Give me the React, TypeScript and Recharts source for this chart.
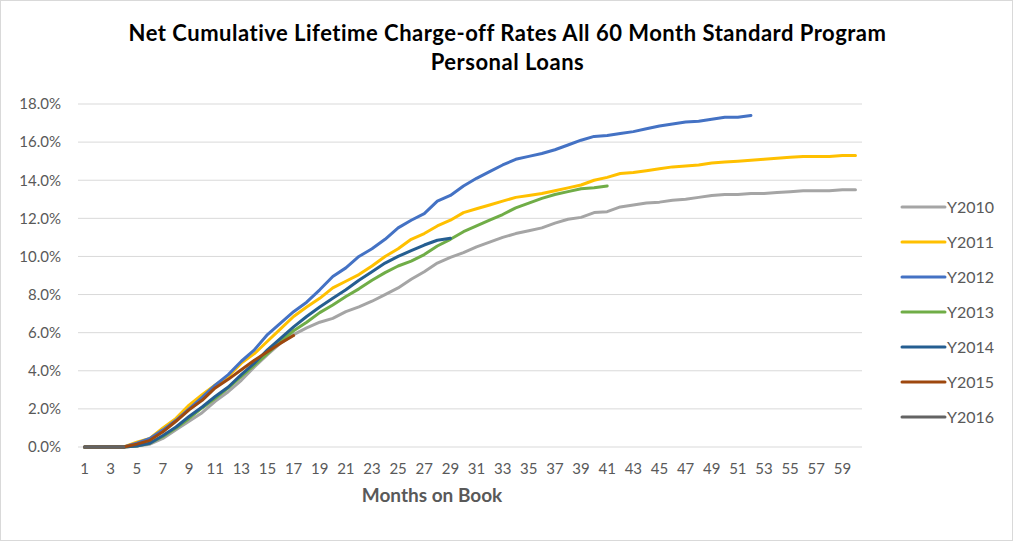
import { LineChart, Line, XAxis, YAxis, CartesianGrid, Legend } from 'recharts'

const months = Array.from({ length: 60 }, (_, i) => i + 1)

const y2010 = [0, 0, 0, 0, 0.05, 0.15, 0.45, 0.9, 1.35, 1.8, 2.4, 2.9, 3.5, 4.2, 4.85, 5.45, 5.9, 6.25, 6.55, 6.75, 7.1, 7.35, 7.65, 8.0, 8.35, 8.8, 9.2, 9.65, 9.95, 10.2, 10.5, 10.75, 11.0, 11.2, 11.35, 11.5, 11.75, 11.95, 12.05, 12.3, 12.35, 12.6, 12.7, 12.8, 12.85, 12.95, 13.0, 13.1, 13.2, 13.25, 13.25, 13.3, 13.3, 13.35, 13.4, 13.45, 13.45, 13.45, 13.5, 13.5]
const y2011 = [0, 0, 0, 0, 0.25, 0.45, 1.0, 1.5, 2.2, 2.75, 3.25, 3.7, 4.4, 4.9, 5.55, 6.2, 6.85, 7.35, 7.8, 8.35, 8.7, 9.05, 9.5, 10.0, 10.4, 10.9, 11.2, 11.6, 11.9, 12.3, 12.5, 12.7, 12.9, 13.1, 13.2, 13.3, 13.45, 13.6, 13.75, 14.0, 14.15, 14.35, 14.4, 14.5, 14.6, 14.7, 14.75, 14.8, 14.9, 14.95, 15.0, 15.05, 15.1, 15.15, 15.2, 15.25, 15.25, 15.25, 15.3, 15.3]
const y2012 = [0, 0, 0, 0, 0.2, 0.45, 0.9, 1.4, 2.0, 2.6, 3.25, 3.8, 4.5, 5.1, 5.9, 6.5, 7.1, 7.6, 8.25, 8.95, 9.4, 10.0, 10.4, 10.9, 11.5, 11.9, 12.25, 12.9, 13.2, 13.7, 14.1, 14.45, 14.8, 15.1, 15.25, 15.4, 15.6, 15.85, 16.1, 16.3, 16.35, 16.45, 16.55, 16.7, 16.85, 16.95, 17.05, 17.1, 17.2, 17.3, 17.3, 17.4]
const y2013 = [0, 0, 0, 0, 0.05, 0.2, 0.55, 1.0, 1.5, 2.05, 2.55, 3.1, 3.7, 4.3, 4.9, 5.55, 6.1, 6.55, 7.05, 7.45, 7.9, 8.3, 8.75, 9.15, 9.5, 9.75, 10.1, 10.55, 10.9, 11.3, 11.6, 11.9, 12.2, 12.55, 12.8, 13.05, 13.25, 13.4, 13.55, 13.6, 13.7]
const y2014 = [0, 0, 0, 0, 0.05, 0.2, 0.6, 1.05, 1.6, 2.1, 2.65, 3.15, 3.8, 4.4, 5.1, 5.7, 6.3, 6.85, 7.35, 7.8, 8.25, 8.75, 9.2, 9.65, 10.0, 10.3, 10.6, 10.85, 10.95]
const y2015 = [0, 0, 0, 0, 0.15, 0.35, 0.8, 1.35, 1.95, 2.45, 3.1, 3.55, 4.05, 4.55, 5.0, 5.45, 5.85]
const y2016 = [0, 0, 0, 0]

const yTicks = [0, 2, 4, 6, 8, 10, 12, 14, 16, 18]
const xLabelTicks = months.filter((m) => m % 2 === 1)
const xMinorTicks = [0, ...months].map((m) => m + 0.5)

const series = [
  { key: 'Y2010', values: y2010, color: '#A5A5A5' },
  { key: 'Y2011', values: y2011, color: '#FFC000' },
  { key: 'Y2012', values: y2012, color: '#4472C4' },
  { key: 'Y2013', values: y2013, color: '#70AD47' },
  { key: 'Y2014', values: y2014, color: '#255E91' },
  { key: 'Y2015', values: y2015, color: '#9E480E' },
  { key: 'Y2016', values: y2016, color: '#636363' },
]

const data = months.map((m, i) => {
  const row: Record<string, number | undefined> = { month: m }
  series.forEach((s) => {
    row[s.key] = s.values[i]
  })
  return row
})

const font = 'Lato, "Open Sans", sans-serif'
const grey = '#595959'

function LegendBox({ payload }: any) {
  return (
    <div>
      {(payload || []).map((p: any) => (
        <div key={p.value} style={{ display: 'flex', alignItems: 'center', height: 35 }}>
          <svg width={47} height={10}>
            <line x1={2} y1={5} x2={45} y2={5} stroke={p.color} strokeWidth={3} strokeLinecap="round" />
          </svg>
          <span style={{ fontFamily: font, fontSize: 16, color: grey }}>{p.value}</span>
        </div>
      ))}
    </div>
  )
}

export default function App() {
  return (
    <div
      style={{
        position: 'absolute',
        left: 0,
        top: 0,
        width: 1013,
        height: 541,
        boxSizing: 'border-box',
        border: '1px solid #d9d9d9',
        background: '#fff',
      }}
    >
      <div
        style={{
          position: 'absolute',
          left: 0,
          top: 17,
          width: 1013,
          textAlign: 'center',
          fontFamily: font,
          fontWeight: 700,
          fontSize: 22,
          letterSpacing: 0.5,
          lineHeight: '29px',
          color: '#000',
        }}
      >
        Net Cumulative Lifetime Charge-off Rates All 60 Month Standard Program
        <br />
        Personal Loans
      </div>
      <div style={{ position: 'absolute', left: -1, top: -1 }}>
        <LineChart width={1013} height={541} data={data} margin={{ top: 104, right: 41, left: 8, bottom: 64 }}>
          <CartesianGrid vertical={false} stroke="#d9d9d9" />
          <XAxis
            xAxisId="minor"
            dataKey="month"
            type="number"
            domain={[0.5, 60.5]}
            ticks={xMinorTicks}
            tick={false}
            tickSize={6}
            tickLine={{ stroke: '#d9d9d9' }}
            axisLine={{ stroke: '#d9d9d9' }}
            height={0}
          />
          <XAxis
            xAxisId="main"
            dataKey="month"
            type="number"
            domain={[0.5, 60.5]}
            ticks={xLabelTicks}
            interval={0}
            tickLine={false}
            axisLine={false}
            tick={{ fontFamily: font, fontSize: 15, fill: grey }}
            tickMargin={10}
            height={30}
          />
          <YAxis
            domain={[0, 18]}
            ticks={yTicks}
            width={70}
            axisLine={false}
            tickLine={false}
            tickFormatter={(v: number) => `${v.toFixed(1)}%`}
            tick={{ fontFamily: font, fontSize: 15, fill: grey }}
            tickMargin={11}
          />
          <Legend
            layout="vertical"
            verticalAlign="top"
            align="right"
            content={<LegendBox />}
            wrapperStyle={{ top: 189, right: 3, left: 'auto', width: 110 }}
          />
          {series.map((s) => (
            <Line
              key={s.key}
              xAxisId="main"
              type="linear"
              dataKey={s.key}
              stroke={s.color}
              strokeWidth={3}
              strokeLinecap="round"
              strokeLinejoin="round"
              dot={false}
              activeDot={false}
              isAnimationActive={false}
            />
          ))}
        </LineChart>
      </div>
      <div
        style={{
          position: 'absolute',
          left: 331,
          width: 200,
          top: 482,
          textAlign: 'center',
          fontFamily: font,
          fontWeight: 700,
          fontSize: 19,
          color: grey,
        }}
      >
        Months on Book
      </div>
    </div>
  )
}
